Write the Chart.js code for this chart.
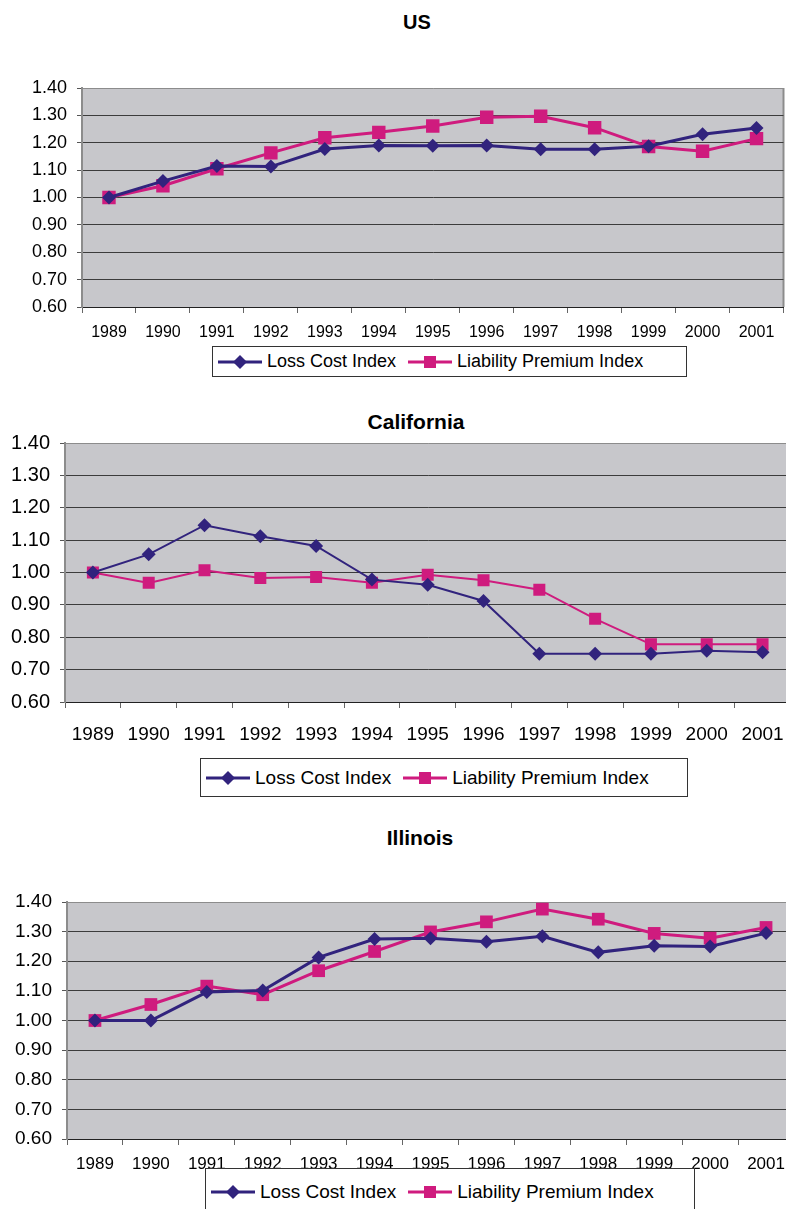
<!DOCTYPE html>
<html>
<head>
<meta charset="utf-8">
<script src="https://cdn.jsdelivr.net/npm/chart.js@4"></script>
<style>
  body { margin: 0; background: #fff; }
  #page { position: relative; width: 786px; height: 1209px; overflow: hidden; font-family: "Liberation Sans", Arial, sans-serif; }
  canvas { position: absolute; left: 0; }
  .title { position: absolute; font-weight: bold; transform: translate(-50%, -50%); white-space: nowrap; color: #000; }
  .legend { position: absolute; border: 1px solid #333; background: #fff; display: flex; align-items: center; box-sizing: border-box; padding-left: 5px; white-space: nowrap; color: #000; }
  .legend span { margin: 0 12px 0 5px; }
</style>
</head>
<body>
<div id="page"></div>
<script>
const years = ['1989','1990','1991','1992','1993','1994','1995','1996','1997','1998','1999','2000','2001'];
const seriesNames = ['Loss Cost Index', 'Liability Premium Index'];
const seriesColors = ['#31237d', '#cf1b7e'];

const usLoss    = [1.00, 1.06, 1.115, 1.113, 1.177, 1.19, 1.189, 1.19, 1.176, 1.176, 1.187, 1.231, 1.254];
const usPremium = [1.00, 1.043, 1.105, 1.163, 1.218, 1.238, 1.261, 1.293, 1.297, 1.255, 1.186, 1.169, 1.215];

const caLoss    = [1.00, 1.056, 1.146, 1.112, 1.082, 0.978, 0.962, 0.912, 0.749, 0.749, 0.749, 0.758, 0.754];
const caPremium = [1.00, 0.968, 1.007, 0.983, 0.986, 0.968, 0.993, 0.976, 0.947, 0.857, 0.778, 0.778, 0.778];

const ilLoss    = [1.00, 1.00, 1.096, 1.101, 1.213, 1.275, 1.278, 1.266, 1.284, 1.23, 1.252, 1.25, 1.295];
const ilPremium = [1.00, 1.054, 1.116, 1.087, 1.168, 1.233, 1.299, 1.333, 1.376, 1.342, 1.294, 1.278, 1.314];

const page = document.getElementById('page');

// grey plot background + right border
const plotBg = {
  id: 'plotBg',
  beforeDraw(chart) {
    const a = chart.chartArea, ctx = chart.ctx;
    ctx.save();
    ctx.fillStyle = '#c7c7cb';
    ctx.fillRect(a.left, a.top, a.right - a.left, a.bottom - a.top);
    ctx.strokeStyle = '#8c8c8c';
    ctx.lineWidth = 2;
    ctx.beginPath();
    ctx.moveTo(a.right, a.top);
    ctx.lineTo(a.right, a.bottom);
    ctx.stroke();
    ctx.restore();
  }
};

function legendIcon(i) {
  const c = seriesColors[i];
  const mark = i === 0
    ? `<polygon points="22,1 29,8 22,15 15,8" fill="${c}"/>`
    : `<rect x="16" y="2" width="12" height="12" fill="${c}"/>`;
  return `<svg width="44" height="16" viewBox="0 0 44 16"><line x1="0" y1="8" x2="44" y2="8" stroke="${c}" stroke-width="3"/>${mark}</svg>`;
}

function makeChart(cfg) {
  const t = document.createElement('div');
  t.className = 'title';
  t.textContent = cfg.title;
  t.style.left = cfg.titleX + 'px';
  t.style.top = cfg.titleY + 'px';
  t.style.fontSize = cfg.titleSize + 'px';
  page.appendChild(t);

  const cv = document.createElement('canvas');
  cv.width = cfg.w; cv.height = cfg.h;
  cv.style.top = cfg.top + 'px';
  page.appendChild(cv);

  const lg = document.createElement('div');
  lg.className = 'legend';
  lg.style.left = cfg.legend[0] + 'px';
  lg.style.top = cfg.legend[1] + 'px';
  lg.style.width = cfg.legend[2] + 'px';
  lg.style.height = cfg.legend[3] + 'px';
  lg.style.fontSize = cfg.legendSize + 'px';
  lg.innerHTML = seriesNames.map((n, i) => legendIcon(i) + `<span>${n}</span>`).join('');
  page.appendChild(lg);

  new Chart(cv, {
    type: 'line',
    data: {
      labels: years,
      datasets: [
        { label: seriesNames[0], data: cfg.loss, borderColor: seriesColors[0], backgroundColor: seriesColors[0],
          borderWidth: cfg.lw, pointStyle: 'rectRot', pointRadius: 7, pointBorderWidth: 0, tension: 0 },
        { label: seriesNames[1], data: cfg.premium, borderColor: seriesColors[1], backgroundColor: seriesColors[1],
          borderWidth: cfg.lw, pointStyle: 'rect', pointRadius: cfg.sq, pointBorderWidth: 0, tension: 0 }
      ]
    },
    options: {
      responsive: false,
      animation: false,
      layout: { padding: { top: cfg.padTop, right: cfg.padRight, left: 0, bottom: 0 } },
      plugins: { legend: { display: false }, title: { display: false }, tooltip: { enabled: false } },
      scales: {
        x: {
          offset: true,
          grid: { offset: true, drawOnChartArea: false, drawTicks: true, tickLength: 6, color: '#666' },
          border: { color: '#222', width: 1 },
          ticks: { color: '#000', font: { family: 'Liberation Sans', size: cfg.xSize }, padding: cfg.xPad, maxRotation: 0, autoSkip: false },
          afterFit(s) { s.height = cfg.xH; }
        },
        y: {
          min: 0.6, max: 1.4,
          grid: {
            color: c => (c.tick && Math.abs(c.tick.value - 1.4) < 1e-6) ? '#8c8c8c' : '#3c3c3c',
            tickColor: '#555', tickLength: 5
          },
          border: { color: '#8c8c8c', width: 2 },
          ticks: { stepSize: 0.1, color: '#000', padding: 10, font: { family: 'Liberation Sans', size: cfg.ySize },
            callback: v => v.toFixed(2) },
          afterFit(s) { s.width = cfg.yW; }
        }
      }
    },
    plugins: [plotBg]
  });
}

makeChart({ title: 'US', titleX: 417, titleY: 22, titleSize: 20, top: 60, w: 793, h: 290,
  padTop: 28, padRight: 3, yW: 82, xH: 43, xPad: 10, xSize: 16, ySize: 18, lw: 3, sq: 9.5,
  loss: usLoss, premium: usPremium, legend: [212, 346, 475, 31], legendSize: 18 });

makeChart({ title: 'California', titleX: 416, titleY: 422, titleSize: 21, top: 410, w: 799, h: 340,
  padTop: 33, padRight: 0, yW: 65, xH: 48, xPad: 15, xSize: 19, ySize: 20, lw: 2, sq: 8.5,
  loss: caLoss, premium: caPremium, legend: [200, 758, 488, 39], legendSize: 19 });

makeChart({ title: 'Illinois', titleX: 420, titleY: 838, titleSize: 21, top: 870, w: 803, h: 339,
  padTop: 32, padRight: 0, yW: 67, xH: 70, xPad: 9, xSize: 17, ySize: 19, lw: 3, sq: 9,
  loss: ilLoss, premium: ilPremium, legend: [205, 1168, 490, 48], legendSize: 19 });
</script>
</body>
</html>
